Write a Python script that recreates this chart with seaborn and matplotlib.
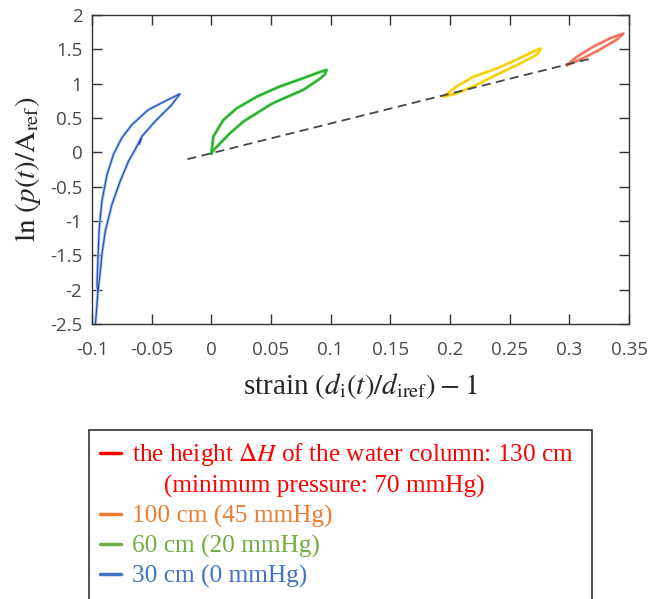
import numpy as np
import pandas as pd
import matplotlib
matplotlib.use("Agg")
import matplotlib.pyplot as plt
from matplotlib.lines import Line2D
import seaborn as sns

# ---------------- data ----------------
blue_x = [-0.0950, -0.0958, -0.0950, -0.0939, -0.0917, -0.0875, -0.0820, -0.0750,
          -0.0667, -0.0528, -0.0360, -0.0264, -0.0333, -0.0472, -0.0583, -0.0605,
          -0.0590, -0.0639, -0.0694, -0.0764, -0.0833, -0.0889, -0.0917, -0.0930,
          -0.0950, -0.0967, -0.0972]
blue_y = [-2.02, -1.93, -1.54, -1.10, -0.71, -0.33, -0.03, 0.21,
          0.40, 0.62, 0.77, 0.85, 0.69, 0.45, 0.23, 0.12,
          0.20, 0.04, -0.13, -0.42, -0.76, -1.15, -1.49, -1.73,
          -2.02, -2.41, -2.51]

green_x = [0.000, 0.0017, 0.010, 0.0212, 0.038, 0.0575, 0.077, 0.091, 0.0966,
           0.0950, 0.0900, 0.077, 0.0547, 0.050, 0.038, 0.027, 0.0157, 0.0073, 0.0017, 0.000]
green_y = [-0.02, 0.23, 0.47, 0.64, 0.81, 0.96, 1.08, 1.17, 1.20,
           1.13, 1.06, 0.91, 0.74, 0.70, 0.57, 0.45, 0.28, 0.13, 0.03, -0.02]

yellow_x = [0.1944, 0.2056, 0.2196, 0.2391, 0.2559, 0.2726, 0.2762,
            0.2726, 0.2559, 0.2391, 0.2196, 0.2056, 0.1944]
yellow_y = [0.81, 0.96, 1.10, 1.22, 1.35, 1.49, 1.51,
            1.42, 1.27, 1.13, 0.96, 0.86, 0.81]

red_x = [0.2978, 0.3062, 0.3202, 0.3341, 0.3453, 0.3397, 0.3229, 0.3090, 0.2978]
red_y = [1.27, 1.39, 1.54, 1.66, 1.73, 1.64, 1.47, 1.35, 1.27]

ref_x = [-0.020, 0.319]
ref_y = [-0.10, 1.37]

x_ticks = [-0.1, -0.05, 0, 0.05, 0.1, 0.15, 0.2, 0.25, 0.3, 0.35]
x_tick_labels = ["-0.1", "-0.05", "0", "0.05", "0.1", "0.15", "0.2", "0.25", "0.3", "0.35"]
y_ticks = [-2.5, -2, -1.5, -1, -0.5, 0, 0.5, 1, 1.5, 2]
y_tick_labels = ["-2.5", "-2", "-1.5", "-1", "-0.5", "0", "0.5", "1", "1.5", "2"]

legend_labels = ["the height $\\Delta H$ of the water column: 130 cm",
                 "     (minimum pressure: 70 mmHg)",
                 "100 cm (45 mmHg)",
                 "60 cm (20 mmHg)",
                 "30 cm (0 mmHg)"]
legend_colors = ["#ff0000", "#ff0000", "#ed7d31", "#70ad47", "#4472c4"]

# ---------------- styling ----------------
sns.set_theme(style="white")
plt.rcParams["font.family"] = ["Liberation Serif", "DejaVu Serif"]
plt.rcParams["mathtext.fontset"] = "stix"
plt.rcParams["axes.unicode_minus"] = False

groups = {
    "blue": (blue_x, blue_y),
    "green": (green_x, green_y),
    "yellow": (yellow_x, yellow_y),
    "red": (red_x, red_y),
}
frames = []
for name, (xs, ys) in groups.items():
    frames.append(pd.DataFrame({"x": xs, "y": ys, "group": name}))
df = pd.concat(frames, ignore_index=True)

light = {"blue": "#a8c8ec", "green": "#4cd44c", "yellow": "#ffe23c", "red": "#f59a88"}
dark = {"blue": "#2b4db5", "green": "#2f9a34", "yellow": "#f2c600", "red": "#ee6450"}

fig = plt.figure(figsize=(6.51, 5.99), dpi=100)
ax = fig.add_axes([92 / 651, 1 - 324 / 599, (629 - 92) / 651, (324 - 15) / 599])

sns.lineplot(data=df, x="x", y="y", hue="group", palette=light, sort=False,
             estimator=None, lw=2.2, legend=False, ax=ax)
sns.lineplot(data=df, x="x", y="y", hue="group", palette=dark, sort=False,
             estimator=None, lw=0.9, legend=False, ax=ax)
ax.plot(ref_x, ref_y, color="#454545", lw=1.3, dashes=(5, 3), zorder=5)

ax.set_xlim(-0.1, 0.35)
ax.set_ylim(-2.5, 2)
ax.set_xticks(x_ticks)
ax.set_xticklabels(x_tick_labels)
ax.set_yticks(y_ticks)
ax.set_yticklabels(y_tick_labels)
for lab in ax.get_xticklabels() + ax.get_yticklabels():
    lab.set_fontfamily("Open Sans")
    lab.set_fontsize(13.5)
    lab.set_color("#4a4a4a")
ax.tick_params(axis="both", direction="in", length=7, width=1.0, color="#333333",
               top=True, right=True, bottom=True, left=True,
               labeltop=False, labelright=False)
ax.tick_params(axis="x", pad=12)
ax.tick_params(axis="y", pad=7)
for sp in ax.spines.values():
    sp.set_color("#333333")
    sp.set_linewidth(1.0)

ax.set_xlabel("strain $(d_{\\mathrm{i}}(t)/d_{\\mathrm{iref}}) - 1$", fontsize=21, labelpad=9)
ax.set_ylabel("$\\ln\\,(p(t)/\\mathrm{A}_{\\mathrm{ref}})$", fontsize=21, labelpad=5)

handles = [Line2D([], [], color=legend_colors[0], lw=2.5),
           Line2D([], [], color="none", lw=2.5),
           Line2D([], [], color=legend_colors[2], lw=2.5),
           Line2D([], [], color=legend_colors[3], lw=2.5),
           Line2D([], [], color=legend_colors[4], lw=2.5)]
leg = fig.legend(handles, legend_labels, loc="upper left",
                 bbox_to_anchor=(89 / 651, 0.0, (592 - 89) / 651, 1 - 430 / 599),
                 mode="expand", fontsize=18.2, frameon=True, fancybox=False,
                 edgecolor="black", handlelength=0.8, handletextpad=0.45,
                 borderpad=0.45, labelspacing=0.27, borderaxespad=0,
                 labelcolor=legend_colors)
leg.get_frame().set_linewidth(1.2)

fig.savefig("out.png", dpi=100)
